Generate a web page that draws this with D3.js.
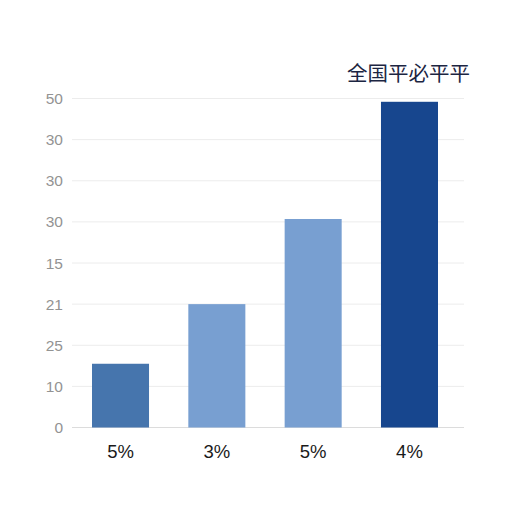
<!DOCTYPE html>
<html lang="zh">
<head>
    <meta charset="UTF-8">
    <title>Chart</title>
    <style>
        body{ margin: 0; background: #fff; }
        svg{ display: block; }
    </style>
    <script src="https://d3js.org/d3.v7.min.js"></script>
</head>
<body>
    <div id="svg"></div>
    <script>
        // data
        const categories = ["5%", "3%", "5%", "4%"];
        const values = [15.5, 30, 50.7, 79.2];
        const barColors = ["#4675ad", "#789fd1", "#789fd1", "#17468e"];
        const tickValues = [0, 10, 20, 30, 40, 50, 60, 70, 80];
        const tickLabels = ["0", "10", "25", "21", "15", "30", "30", "30", "50"];
        const title = "全国平必平平";

        const boxWidth = 512, boxHeight = 512;
        const marginTop = 98.5, marginRight = 48, marginBottom = 84.5, marginLeft = 72;
        const innerWidth = boxWidth - marginLeft - marginRight;
        const innerHeight = boxHeight - marginTop - marginBottom;

        const svg = d3.select('#svg').append('svg')
            .attr("width", boxWidth).attr("height", boxHeight);

        const g = svg.append("g")
            .attr("transform", `translate(${marginLeft}, ${marginTop})`);

        const xScale = d3.scaleBand()
            .domain(d3.range(categories.length))
            .range([20, 366])
            .paddingInner(0.408)
            .paddingOuter(0);

        const yScale = d3.scaleLinear()
            .domain([0, 80])
            .range([innerHeight, 0]);

        // gridlines
        g.append("g").selectAll("line").data(tickValues).join("line")
            .attr("x1", 0).attr("x2", innerWidth)
            .attr("y1", d => yScale(d)).attr("y2", d => yScale(d))
            .attr("stroke", d => d === 0 ? "#dcdcdc" : "#ececec")
            .attr("stroke-width", 1);

        // y labels
        g.append("g").selectAll("text").data(tickValues).join("text")
            .attr("x", -9)
            .attr("y", d => yScale(d) + 5.5)
            .attr("text-anchor", "end")
            .attr("fill", "#939393")
            .attr("font-family", "Liberation Sans, Arial, sans-serif")
            .attr("font-size", 15.5)
            .text((d, i) => tickLabels[i]);

        // bars
        g.selectAll(".dataRect").data(values).join("rect")
            .attr("class", "dataRect")
            .attr("x", (d, i) => xScale(i))
            .attr("width", xScale.bandwidth())
            .attr("y", d => yScale(d))
            .attr("height", d => innerHeight - yScale(d))
            .attr("fill", (d, i) => barColors[i]);

        // x labels
        g.append("g").selectAll("text").data(categories).join("text")
            .attr("x", (d, i) => xScale(i) + xScale.bandwidth() / 2)
            .attr("y", innerHeight + 30)
            .attr("text-anchor", "middle")
            .attr("fill", "#1a1a1a")
            .attr("font-family", "Liberation Sans, Arial, sans-serif")
            .attr("font-size", 18.5)
            .text(d => d);

        // title
        svg.append("text")
            .attr("x", 470).attr("y", 81)
            .attr("text-anchor", "end")
            .attr("fill", "#1c2542")
            .attr("font-family", "Noto Sans CJK SC, sans-serif")
            .attr("font-size", 20.5)
            .text(title);
    </script>
</body>
</html>
